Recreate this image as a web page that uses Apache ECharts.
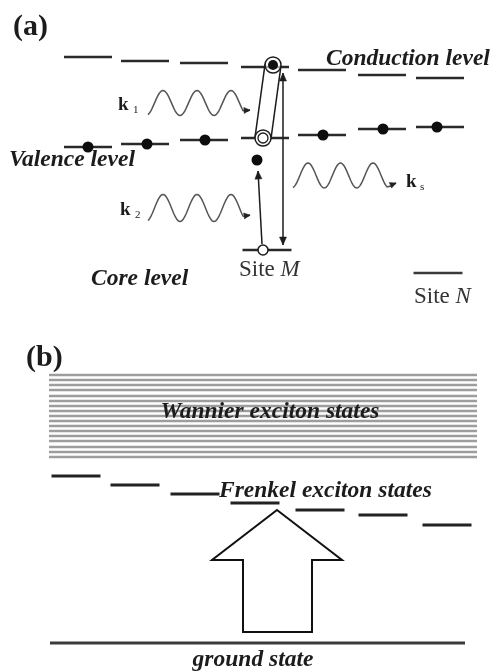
<!DOCTYPE html>
<html>
<head>
<meta charset="utf-8">
<script src="https://cdn.jsdelivr.net/npm/echarts@6/dist/echarts.min.js"></script>
<style>
html,body{margin:0;padding:0;background:#fff}
#chart{width:495px;height:671px}
</style>
</head>
<body>
<div id="chart"></div>
<script>
// ---- (a) site chain: site positions and level energies ----
const siteCentersA   = [88, 145, 204, 265, 322, 382, 440];
const conductionLevels = [57, 61, 63, 67, 70, 75, 78];
const valenceLevels    = [147, 144, 140, 138, 135, 129, 127];
const valenceElectronX = [88, 147, 205, 323, 383, 437];
const valenceElectronY = [147, 144, 140, 135, 129, 127];
const siteM = 267;
const coreLevelM = 250;
const siteN = 438;
const coreLevelN = 273;

// ---- (b) exciton manifolds ----
const frenkelCenters = [76, 135, 195, 255, 320, 383, 447];
const frenkelLevels  = [476, 485, 494, 503, 510, 515, 525];
const wannierLevels  = [375, 380, 385, 390, 396, 401, 406, 411, 416, 421, 426, 431, 436, 441, 447, 452, 457];
const groundLevel = 643;

const SERIF = '"Liberation Serif", "DejaVu Serif", serif';
const INK = '#1c1c1c';
const LABEL = 'italic bold 23.5px ' + SERIF;

const chart = echarts.init(document.getElementById('chart'), null, {renderer: 'canvas'});

// horizontal level dashes centred on [x, y]
function dashSeries(data, halfWidth, color, width) {
  return {
    type: 'custom', coordinateSystem: 'cartesian2d', silent: true, animation: false,
    data: data,
    renderItem: function (params, api) {
      const x = api.value(0), y = api.value(1);
      const a = api.coord([x - halfWidth, y]);
      const b = api.coord([x + halfWidth, y]);
      return {type: 'line', shape: {x1: a[0], y1: a[1], x2: b[0], y2: b[1]},
              style: {stroke: color, lineWidth: width}};
    }
  };
}

function arrowHead(tip, from, len, half, color) {
  const dx = tip[0] - from[0], dy = tip[1] - from[1];
  const d = Math.sqrt(dx * dx + dy * dy) || 1;
  const ux = dx / d, uy = dy / d;
  const bx = tip[0] - ux * len, by = tip[1] - uy * len;
  return {type: 'polygon',
          shape: {points: [[tip[0], tip[1]], [bx - uy * half, by + ux * half], [bx + uy * half, by - ux * half]]},
          style: {fill: color, stroke: color, lineWidth: 0.5}};
}

// wavy photon lines: [xStart, xEnd, yCentre, amplitude, wavelength, peakX, tipX, tipY]
const photons = [
  [148, 243, 103, 12.5, 34, 163, 250, 110],
  [148, 243, 208, 13.5, 34, 163, 250, 215],
  [293, 387, 175.5, 12.5, 32.5, 308, 396, 183]
];

function txt(text, x, y, font, align) {
  return {type: 'text', x: x, y: y, silent: true, z: 10,
          style: {text: text, font: font, fill: INK,
                  textAlign: align, align: align,
                  textVerticalAlign: 'middle', verticalAlign: 'middle'}};
}

function siteLabel(letter, x, y) {
  return {type: 'text', x: x, y: y, silent: true, z: 10,
          style: {text: '{r|Site }{i|' + letter + '}', textVerticalAlign: 'middle', verticalAlign: 'middle',
                  rich: {r: {font: '23px ' + SERIF, fill: '#333'}, i: {font: 'italic 23px ' + SERIF, fill: '#333'}}}};
}

const option = {
  animation: false,
  backgroundColor: '#ffffff',
  grid: {left: 0, right: 0, top: 0, bottom: 0, containLabel: false},
  xAxis: {type: 'value', min: 0, max: 495, show: false},
  yAxis: {type: 'value', min: 0, max: 671, inverse: true, show: false},
  series: [
    // Wannier band
    dashSeries(wannierLevels.map(y => [263, y]), 214, '#9d9d9d', 2.6),
    // conduction and valence levels of the chain
    dashSeries(siteCentersA.map((x, i) => [x, conductionLevels[i]]), 24, '#2a2a2a', 2.6),
    dashSeries(siteCentersA.map((x, i) => [x, valenceLevels[i]]), 24, '#2a2a2a', 2.6),
    // core levels at sites M and N
    dashSeries([[siteM, coreLevelM]], 24.5, '#2a2a2a', 2.4),
    dashSeries([[siteN, coreLevelN]], 24.5, '#3a3a3a', 2.6),
    // Frenkel levels and ground state
    dashSeries(frenkelCenters.map((x, i) => [x, frenkelLevels[i]]), 24.5, '#222', 2.8),
    dashSeries([[257.5, groundLevel]], 207.5, '#3a3a3a', 3.2),
    // valence electrons
    {
      type: 'scatter', silent: true, animation: false,
      symbol: 'circle', symbolSize: 11,
      itemStyle: {color: '#0d0d0d', opacity: 1},
      data: valenceElectronX.map((x, i) => [x, valenceElectronY[i]]).concat([[257, 160]])
    },
    // site M: excited electron / hole pair enclosed in a loop, plus core hole
    {
      type: 'custom', coordinateSystem: 'cartesian2d', silent: true, animation: false,
      data: [[273, 65, 263, 138, 263, 250]],
      renderItem: function (params, api) {
        const top = api.coord([api.value(0), api.value(1)]);
        const bot = api.coord([api.value(2), api.value(3)]);
        const core = api.coord([api.value(4), api.value(5)]);
        const r = 8;
        const dx = bot[0] - top[0], dy = bot[1] - top[1];
        const d = Math.sqrt(dx * dx + dy * dy);
        const nx = -dy / d * r, ny = dx / d * r;
        const st = {stroke: INK, lineWidth: 1.5};
        return {type: 'group', children: [
          {type: 'line', shape: {x1: top[0] + nx, y1: top[1] + ny, x2: bot[0] + nx, y2: bot[1] + ny}, style: st},
          {type: 'line', shape: {x1: top[0] - nx, y1: top[1] - ny, x2: bot[0] - nx, y2: bot[1] - ny}, style: st},
          {type: 'circle', shape: {cx: top[0], cy: top[1], r: r}, style: {stroke: INK, lineWidth: 1.5, fill: 'rgba(255,255,255,0.6)'}},
          {type: 'circle', shape: {cx: top[0], cy: top[1], r: 5}, style: {fill: '#111'}},
          {type: 'circle', shape: {cx: bot[0], cy: bot[1], r: r}, style: {stroke: INK, lineWidth: 1.5, fill: '#fff'}},
          {type: 'circle', shape: {cx: bot[0], cy: bot[1], r: 5}, style: {stroke: INK, lineWidth: 1.3, fill: '#fff'}},
          {type: 'circle', shape: {cx: core[0], cy: core[1], r: 5}, style: {stroke: INK, lineWidth: 1.5, fill: '#fff'}}
        ]};
      }
    },
    // transition arrows at site M
    {
      type: 'custom', coordinateSystem: 'cartesian2d', silent: true, animation: false,
      data: [[283, 73, 283, 245, 1], [262, 244, 258, 171, 0]],
      renderItem: function (params, api) {
        const a = api.coord([api.value(0), api.value(1)]);
        const b = api.coord([api.value(2), api.value(3)]);
        const both = api.value(4) === 1;
        const kids = [
          {type: 'line', shape: {x1: a[0], y1: a[1], x2: b[0], y2: b[1]}, style: {stroke: INK, lineWidth: 1.5}},
          arrowHead(b, a, 8, 3.5, INK)
        ];
        if (both) kids.push(arrowHead(a, b, 8, 3.5, INK));
        return {type: 'group', children: kids};
      }
    },
    // photons k1, k2 (incoming) and ks (scattered)
    {
      type: 'custom', coordinateSystem: 'cartesian2d', silent: true, animation: false,
      data: photons,
      renderItem: function (params, api) {
        const v = [0, 1, 2, 3, 4, 5, 6, 7].map(i => api.value(i));
        const [x0, x1, yc, amp, lam, px, tx, ty] = v;
        const pts = [];
        for (let x = x0; x <= x1; x += 1) {
          pts.push(api.coord([x, yc - amp * Math.cos(2 * Math.PI * (x - px) / lam)]));
        }
        const tip = api.coord([tx, ty]);
        const last = pts[pts.length - 1];
        pts.push([(last[0] + tip[0]) / 2, (last[1] + tip[1]) / 2 + 1]);
        return {type: 'group', children: [
          {type: 'polyline', shape: {points: pts}, style: {stroke: '#555', lineWidth: 1.5, fill: null}},
          {type: 'line', shape: {x1: pts[pts.length - 1][0], y1: pts[pts.length - 1][1], x2: tip[0], y2: tip[1]}, style: {stroke: '#333', lineWidth: 1.5}},
          arrowHead(tip, last, 6, 3, '#222')
        ]};
      }
    },
    // hollow excitation arrow in (b)
    {
      type: 'custom', coordinateSystem: 'cartesian2d', silent: true, animation: false,
      data: [[277, 510, 560, 632]],
      renderItem: function (params, api) {
        const cx = api.value(0), tipY = api.value(1), headY = api.value(2), baseY = api.value(3);
        const raw = [[cx, tipY], [cx + 65, headY], [cx + 35, headY], [cx + 35, baseY],
                     [cx - 34, baseY], [cx - 34, headY], [cx - 65, headY]];
        return {type: 'polygon', shape: {points: raw.map(p => api.coord(p))},
                style: {fill: '#fff', stroke: '#111', lineWidth: 2}};
      }
    }
  ],
  graphic: [
    txt('(a)', 13, 27, 'bold 30px ' + SERIF, 'left'),
    txt('Conduction level', 326, 59, LABEL, 'left'),
    txt('Valence level', 9, 160, LABEL, 'left'),
    txt('k', 118, 105, 'bold 19px ' + SERIF, 'left'),
    txt('1', 133, 110, '11px ' + SERIF, 'left'),
    txt('k', 120, 210, 'bold 19px ' + SERIF, 'left'),
    txt('2', 135, 215, '11px ' + SERIF, 'left'),
    txt('k', 406, 182, 'bold 19px ' + SERIF, 'left'),
    txt('s', 420, 187, '11px ' + SERIF, 'left'),
    txt('Core level', 91, 279, LABEL, 'left'),
    siteLabel('M', 239, 270),
    siteLabel('N', 414, 297),
    txt('(b)', 26, 358, 'bold 30px ' + SERIF, 'left'),
    txt('Wannier exciton states', 270, 412, LABEL, 'center'),
    txt('Frenkel exciton states', 219, 491, LABEL, 'left'),
    txt('ground state', 253, 660, LABEL, 'center')
  ]
};

chart.setOption(option);
</script>
</body>
</html>
